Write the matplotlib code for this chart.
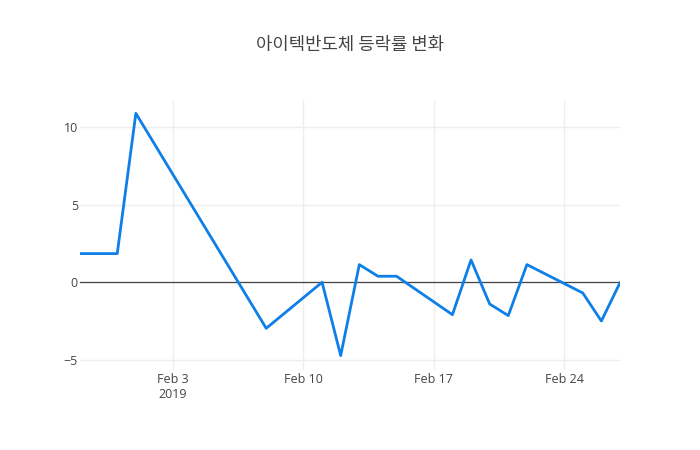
import matplotlib.pyplot as plt
import matplotlib.dates as mdates
import pandas as pd

plt.rcParams['font.family'] = ['Open Sans', 'Noto Sans CJK KR', 'DejaVu Sans']

# daily change rate (%)
dates = ['2019-01-29', '2019-01-31', '2019-02-01', '2019-02-08', '2019-02-11',
         '2019-02-12', '2019-02-13', '2019-02-14', '2019-02-15', '2019-02-18',
         '2019-02-19', '2019-02-20', '2019-02-21', '2019-02-22', '2019-02-25',
         '2019-02-26', '2019-02-27']
rates = [1.85, 1.85, 10.9, -2.97, 0.0, -4.73, 1.14, 0.39, 0.39, -2.09,
         1.44, -1.40, -2.15, 1.14, -0.69, -2.50, -0.03]
tick_dates = ['2019-02-03', '2019-02-10', '2019-02-17', '2019-02-24']
tick_labels = ['Feb 3\n2019', 'Feb 10', 'Feb 17', 'Feb 24']
y_ticks = [-5, 0, 5, 10]

x = pd.to_datetime(dates)

fig = plt.figure(figsize=(7, 4.5), dpi=100)
ax = fig.add_axes([80 / 700, 80 / 450, 540 / 700, 270 / 450])

ax.plot(x, rates, color='#0f7fe8', linewidth=2, zorder=3)
ax.axhline(0, color='#444444', linewidth=0.9, zorder=2)

ax.set_xlim(x[0], x[-1])
ax.set_ylim(-5.66, 11.76)

ax.set_xticks(pd.to_datetime(tick_dates))
ax.set_xticklabels(tick_labels, fontsize=9, color='#444444', linespacing=1.2)
ax.set_yticks(y_ticks)
ax.set_yticklabels([str(v) if v >= 0 else '\u2212' + str(-v) for v in y_ticks],
                   fontsize=9, color='#444444')

ax.grid(True, color='#eeeeee', linewidth=1, zorder=0)
ax.tick_params(axis='x', length=0, pad=2)
ax.tick_params(axis='y', length=0, pad=1.5)
for s in ax.spines.values():
    s.set_visible(False)

fig.text(0.5, 1 - 45 / 450, '아이텍반도체 등락률 변화', ha='center', va='center',
         fontsize=12.8, color='#444444',
         family=['Noto Sans CJK KR', 'DejaVu Sans'])

fig.savefig('out.png', dpi=100, facecolor='white')
